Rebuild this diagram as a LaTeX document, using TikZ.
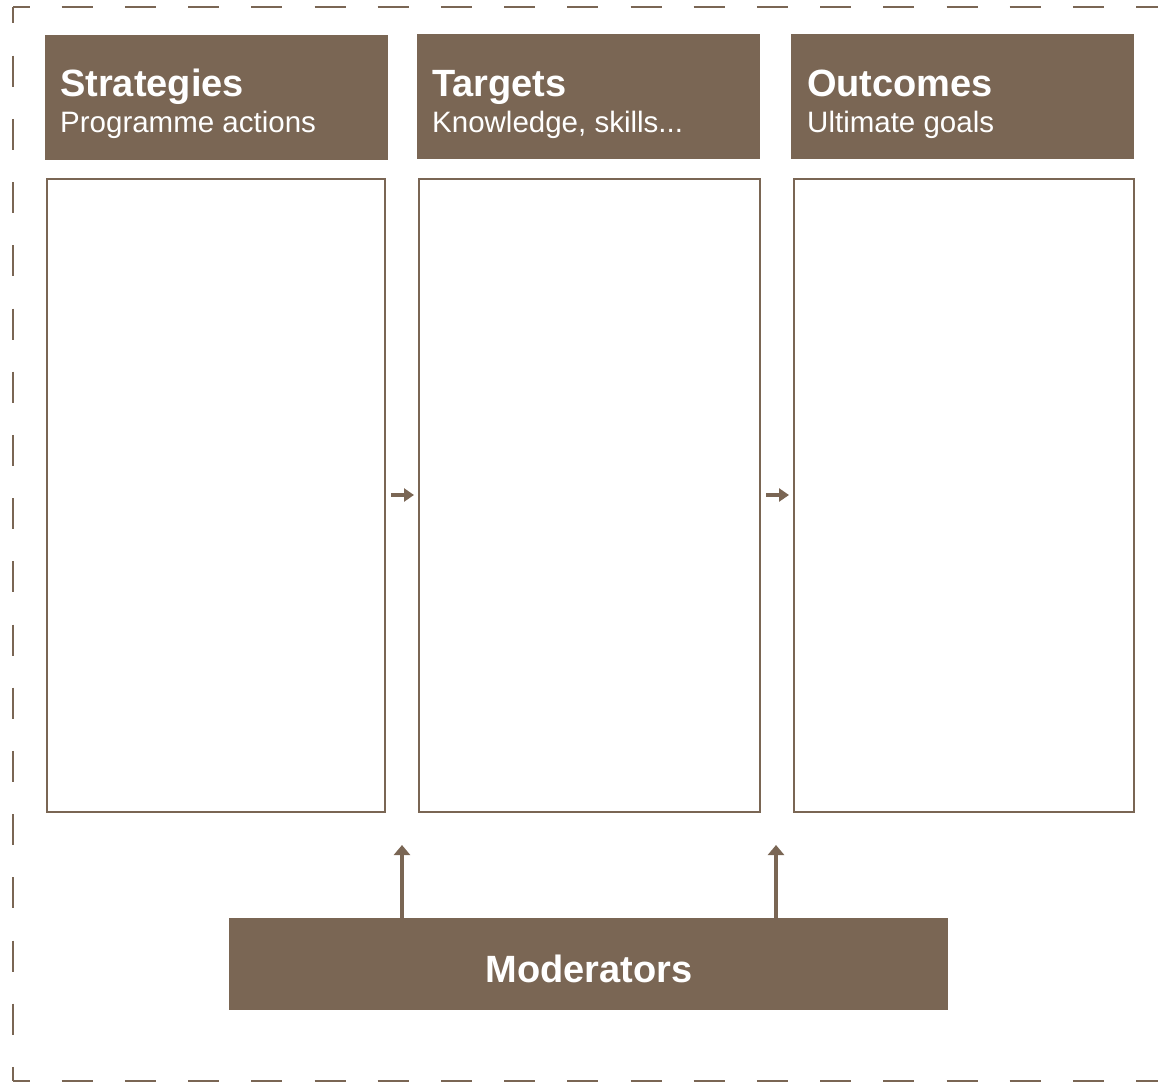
\documentclass[tikz,border=0pt]{standalone}
\usepackage{fontspec}
\setmainfont{Liberation Sans}
\usetikzlibrary{arrows.meta,positioning}
\definecolor{umber}{HTML}{7A6654}

\tikzset{
  frame/.style={umber, line width=2pt, dash pattern=on 31pt off 32.2pt, dash phase=14.5pt},
  headbox/.style={fill=umber, draw=none, anchor=north west, minimum width=343pt, minimum height=125pt, inner sep=0pt},
  panel/.style={draw=umber, line width=2pt, anchor=north west, minimum width=338pt, minimum height=633pt, inner sep=0pt},
  htitle/.style={text=white, anchor=base west, inner sep=0pt, font=\fontsize{38}{40}\selectfont\bfseries},
  hsub/.style={text=white, anchor=base west, inner sep=0pt, font=\fontsize{29.5}{32}\selectfont},
  flow/.style={umber, line width=4.5pt, -{Triangle[length=10pt,width=13pt]}},
  lift/.style={umber, line width=4pt, -{Triangle[length=10pt,width=16pt]}}
}

\begin{document}
\begin{tikzpicture}[x=1pt, y=-1pt]
\useasboundingbox (0,0) rectangle (1158,1083);
% outer frame
\coordinate (tl) at (13,7);
\coordinate (bl) at (13,1081);
\draw[frame] (tl) -- (bl);
\draw[frame] (tl) -- ++(1170,0);
\draw[frame] (bl) -- ++(1170,0);

% headers
\node[headbox] (sh) at (45,35) {};
\node[headbox] (th) at (417,34) {};
\node[headbox] (oh) at (791,34) {};
\node[htitle] (st) at (60,97) {Strategies};
\node[hsub] (ss) at (60,133) {Programme actions};
\node[htitle] (tt) at (432,97) {Targets};
\node[hsub] (ts) at (432,133) {Knowledge, skills...};
\node[htitle] (ot) at (807,97) {Outcomes};
\node[hsub] (os) at (807,133) {Ultimate goals};

% panels
\node[panel] (s) at (46,178) {};
\node[panel, minimum width=341pt] (t) at (418,178) {};
\node[panel, minimum width=340pt] (o) at (793,178) {};

% moderators
\node[fill=umber, anchor=north west, minimum width=719pt, minimum height=92pt, inner sep=0pt] (m) at (229,918) {};
\node[text=white, anchor=base, inner sep=0pt, font=\fontsize{38}{40}\selectfont\bfseries] (mt) at (589,982) {Moderators};

% arrows
\draw[flow, shorten <=5pt, shorten >=4pt] (s.east |- 0,495) -- (t.west |- 0,495);
\draw[flow, shorten <=5pt, shorten >=4pt] (t.east |- 0,495) -- (o.west |- 0,495);
\coordinate (a1) at (402,845);
\coordinate (a2) at (776,845);
\draw[lift] (a1 |- m.north) -- (a1);
\draw[lift] (a2 |- m.north) -- (a2);
\end{tikzpicture}
\end{document}
